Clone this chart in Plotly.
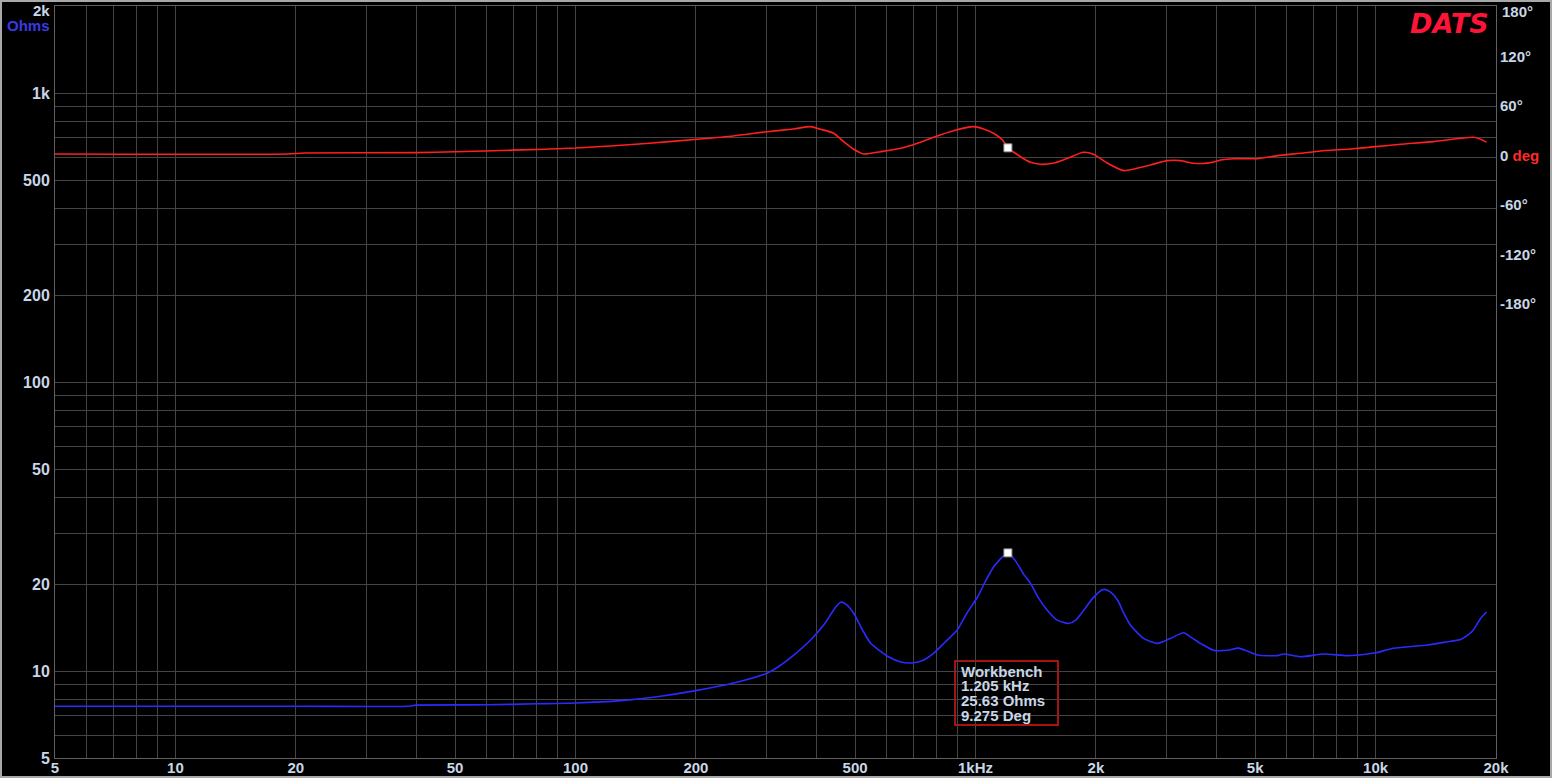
import math
import plotly.graph_objects as go

# ---------------- data ----------------
imp_freq = [5, 10, 20, 38, 40, 60, 80, 100, 130, 160, 200, 250, 300, 320, 350, 387, 420, 445, 460,
            475, 495, 520, 546, 606, 650, 700, 740, 785, 840, 901, 950, 1011, 1060, 1109, 1150,
            1205, 1260, 1320, 1372, 1440, 1513, 1600, 1708, 1780, 1862, 1960, 2060, 2101, 2180,
            2264, 2350, 2441, 2630, 2850, 3074, 3313, 3480, 3652, 3936, 4270, 4545, 4800, 5070,
            5690, 5900, 6495, 7413, 8512, 9550, 10000, 11090, 13490, 15000, 16310, 17000, 17580,
            18300, 18940]
imp_ohms = [7.55, 7.55, 7.55, 7.55, 7.62, 7.64, 7.7, 7.75, 7.9, 8.15, 8.55, 9.1, 9.8, 10.3, 11.3,
            12.8, 14.6, 16.5, 17.3, 17.0, 15.9, 14.0, 12.5, 11.2, 10.75, 10.68, 10.9, 11.5, 12.6,
            13.9, 15.8, 18.0, 20.5, 22.9, 24.3, 25.63, 24.0, 21.6, 20.1, 17.8, 16.2, 15.0, 14.6,
            15.0, 16.2, 17.8, 19.0, 19.16, 18.7, 17.6, 15.8, 14.4, 12.97, 12.46, 12.97, 13.56,
            13.0, 12.46, 11.8, 11.8, 12.0, 11.7, 11.36, 11.3, 11.45, 11.2, 11.45, 11.3, 11.45,
            11.56, 11.98, 12.3, 12.6, 12.86, 13.3, 13.9, 15.2, 16.0]

ph_freq = [5, 19, 21, 40, 50, 70, 100, 150, 205, 248, 302, 351, 387, 410, 442, 468, 496, 525, 579,
           650, 716, 785, 881, 988, 1047, 1109, 1168, 1205, 1296, 1372, 1454, 1560, 1698, 1862,
           1972, 2138, 2344, 2425, 2738, 3019, 3256, 3508, 3870, 4100, 4415, 5070, 5690, 6495,
           7285, 8660, 10000, 11550, 13980, 16310, 17580, 18300, 18940]
ph_deg = [1.8, 1.8, 3.0, 3.5, 4.5, 6.5, 9.0, 14.5, 20.0, 23.7, 28.9, 32.2, 35.0, 31.8, 27.0, 16.8,
          7.5, 1.8, 4.6, 8.7, 14.8, 22.1, 30.1, 35.0, 32.2, 27.0, 18.8, 9.275, -1.5, -8.3, -10.7,
          -9.5, -3.4, 3.9, 1.5, -9.5, -18.4, -17.6, -11.5, -6.3, -6.3, -9.5, -8.7, -5.5, -3.9,
          -3.9, -0.2, 2.7, 5.5, 7.9, 10.7, 13.6, 16.8, 20.9, 22.1, 19.7, 16.0]

marker_freq = [1205]
marker_ohms = [25.63]
marker_deg = [9.275]

x_tickvals = [5, 10, 20, 50, 100, 200, 500, 1000, 2000, 5000, 10000, 20000]
x_ticktext = ["5", "10", "20", "50", "100", "200", "500", "1kHz", "2k", "5k", "10k", "20k"]
x_minor = [6, 7, 8, 9, 30, 40, 60, 70, 80, 90, 300, 400, 600, 700, 800, 900,
           3000, 4000, 6000, 7000, 8000, 9000]
y_tickvals = [5, 10, 20, 50, 100, 200, 500, 1000, 2000]
y_ticktext = ["5", "10", "20", "50", "100", "200", "500", "1k", ""]
y_minor = [6, 7, 8, 9, 30, 40, 60, 70, 80, 90, 300, 400, 600, 700, 800, 900]
ph_tickvals = [-180, -120, -60, 0, 60, 120, 180]
ph_ticktext = ["-180°", "-120°", "-60°", "0 <span style='color:#ff2a2a'>deg</span>",
               "60°", "120°", ""]

readout_lines = ["Workbench", "1.205 kHz", "25.63 Ohms", "9.275 Deg"]

# ---------------- figure ----------------
W, H = 1552, 778
L, R, T, B = 55, 56, 6, 20
PW, PH = W - L - R, H - T - B

def px(xp):
    return (xp - L) / PW

def py(yp):
    return (H - B - yp) / PH

GRID = "#444444"
LBL = "#c8d6e6"
FONT = "Liberation Sans, Arial, sans-serif"

fig = go.Figure()
fig.add_trace(go.Scatter(x=imp_freq, y=imp_ohms, mode="lines",
                         line=dict(color="#2b2bff", width=1.6, shape="spline", smoothing=0.6),
                         yaxis="y", showlegend=False))
fig.add_trace(go.Scatter(x=ph_freq, y=ph_deg, mode="lines",
                         line=dict(color="#ff1f1f", width=1.6, shape="spline", smoothing=0.6),
                         yaxis="y2", showlegend=False))
fig.add_trace(go.Scatter(x=marker_freq, y=marker_ohms, mode="markers", yaxis="y",
                         marker=dict(symbol="square", size=8, color="white",
                                     line=dict(color="#909090", width=1)), showlegend=False))
fig.add_trace(go.Scatter(x=marker_freq, y=marker_deg, mode="markers", yaxis="y2",
                         marker=dict(symbol="square", size=8, color="white",
                                     line=dict(color="#909090", width=1)), showlegend=False))

tickfont = dict(family=FONT, size=16, color=LBL, weight="bold")

fig.update_layout(
    width=W, height=H,
    margin=dict(l=L, r=R, t=T, b=B, pad=0, autoexpand=False),
    paper_bgcolor="black", plot_bgcolor="black",
    xaxis=dict(type="log", range=[math.log10(5), math.log10(20000)], automargin=False,
               tickmode="array", tickvals=x_tickvals, ticktext=x_ticktext,
               ticks="", showgrid=True, gridcolor=GRID, gridwidth=1, zeroline=False,
               showline=True, mirror=True, linecolor="#606060", linewidth=1,
               tickfont=dict(family=FONT, size=15, color=LBL, weight="bold"),
               ticklabeloverflow="allow", ticklabelstandoff=-4,
               minor=dict(tickmode="array", tickvals=x_minor, showgrid=True,
                          gridcolor=GRID, gridwidth=1, ticks="")),
    yaxis=dict(type="log", range=[math.log10(5), math.log10(2000)], automargin=False,
               tickmode="array", tickvals=y_tickvals, ticktext=y_ticktext,
               ticks="", showgrid=True, gridcolor=GRID, gridwidth=1, zeroline=False,
               showline=True, mirror=True, linecolor="#606060", linewidth=1,
               tickfont=tickfont, ticklabelstandoff=1, ticklabeloverflow="allow",
               minor=dict(tickmode="array", tickvals=y_minor, showgrid=True,
                          gridcolor=GRID, gridwidth=1, ticks="")),
    yaxis2=dict(overlaying="y", side="right", range=[-732, 181.6], automargin=False,
                tickmode="array", tickvals=ph_tickvals, ticktext=ph_ticktext,
                ticks="", showgrid=False, zeroline=False, showline=False,
                tickfont=dict(family=FONT, size=15, color=LBL, weight="bold"),
                ticklabelstandoff=3, ticklabeloverflow="allow"),
)

annotations = [
    dict(text="2k", x=px(52), y=py(10), xref="paper", yref="paper",
         xanchor="right", yanchor="middle", showarrow=False,
         font=dict(family=FONT, size=15, color=LBL, weight="bold")),
    dict(text="Ohms", x=px(52), y=py(26), xref="paper", yref="paper",
         xanchor="right", yanchor="middle", showarrow=False,
         font=dict(family=FONT, size=15, color="#3a3ae6", weight="bold")),
    dict(text="180°", x=px(1500), y=py(12), xref="paper", yref="paper",
         xanchor="left", yanchor="middle", showarrow=False,
         font=dict(family=FONT, size=15, color=LBL, weight="bold")),
    dict(text="<i>DATS</i>", x=px(1491), y=py(24), xref="paper", yref="paper",
         xanchor="right", yanchor="middle", showarrow=False,
         font=dict(family="DejaVu Sans", size=27, color="#ff1438", weight="bold")),
]
line_y = [671, 685.5, 700.5, 715]
for t, yy in zip(readout_lines, line_y):
    annotations.append(dict(text=t, x=px(959), y=py(yy), xref="paper", yref="paper",
                            xanchor="left", yanchor="middle", showarrow=False,
                            font=dict(family=FONT, size=15, color=LBL, weight="bold")))
fig.update_layout(annotations=annotations)

fig.update_layout(shapes=[
    dict(type="rect", xref="paper", yref="paper",
         x0=px(955), x1=px(1058), y0=py(725), y1=py(661),
         line=dict(color="#e01818", width=1.5), fillcolor="black", layer="below"),
    dict(type="rect", xref="paper", yref="paper",
         x0=px(1), x1=px(W - 1), y0=py(H - 1), y1=py(1),
         line=dict(color="#a8a8a8", width=2), fillcolor="rgba(0,0,0,0)"),
])

fig.write_html("out.html")
